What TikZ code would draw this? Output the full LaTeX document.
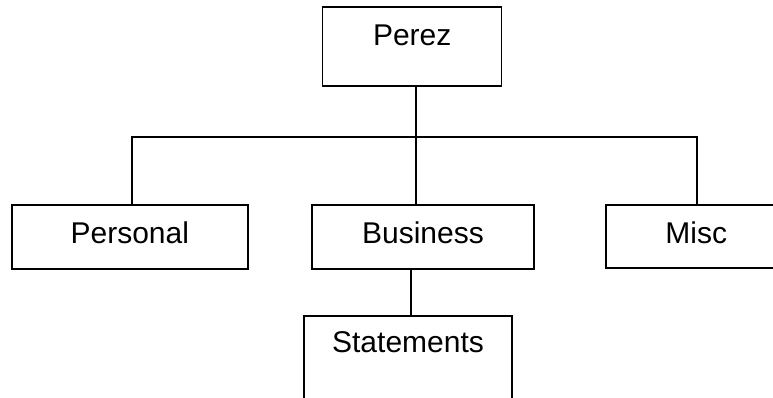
\documentclass[tikz,border=0pt]{standalone}
\usepackage{fontspec}
\setmainfont{Liberation Sans}
\begin{document}
\begin{tikzpicture}[x=1pt, y=-1pt, line width=1.5pt,
    box/.style={draw, rectangle, inner sep=0pt, font=\fontsize{30}{32}\selectfont}]
        % Page size of the reference
        \clip (0,0) rectangle (773,398);

        % Top level folder
        \node[box, minimum width=179pt, text height=38.7pt, text depth=40.3pt] (Perez) at (412.2,46.5) {Perez};

        % Second level folders
        \node[box, minimum width=236pt, text height=38pt, text depth=26pt] (Personal) at (129.8,237) {Personal};
        \node[box, minimum width=222pt, text height=38pt, text depth=26pt] (Business) at (423,237) {Business};
        \node[box, minimum width=181pt, text height=38pt, text depth=25pt] (Misc) at (696.3,236.5) {Misc};

        % Third level folder
        \node[box, minimum width=208pt, text height=36.3pt, text depth=57.7pt] (Statements) at (408,363) {Statements};

        % Branch points on the bar
        \coordinate (hubL) at (132,137);
        \coordinate (hub) at (416,137);
        \coordinate (hubR) at (697,137);

        % Connections
        \draw (hub |- Perez.south) -- (hub |- Business.north);
        \draw (hubL |- Personal.north) -- (hubL) -- (hubR) -- (hubR |- Misc.north);
        \draw ([xshift=-12pt]Business.south) -- ([xshift=3pt]Statements.north);
      \end{tikzpicture}
\end{document}
